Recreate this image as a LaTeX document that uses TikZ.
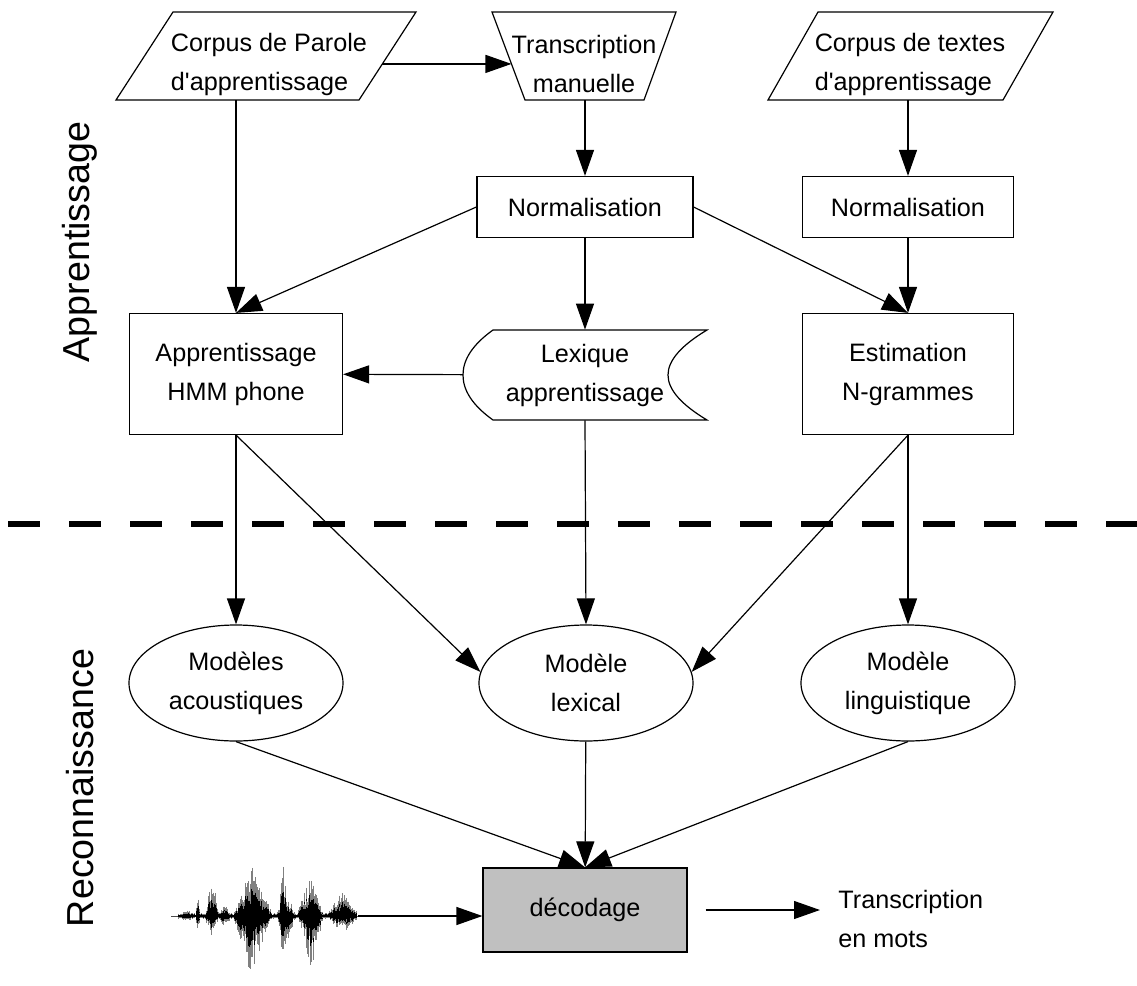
\documentclass[tikz,border=0pt]{standalone}
\usepackage{fontspec}
\setmainfont{Liberation Sans}
\usetikzlibrary{shapes.geometric,arrows.meta}
\definecolor{gris}{RGB}{192,192,192}

\begin{document}
\begin{tikzpicture}[x=0.5pt,y=-0.5pt,
    font=\fontsize{12.6}{19.5}\selectfont,
    trait/.style={line width=0.6pt},
    fleche/.style={trait, -{Triangle[length=13pt,width=9pt]}},
    boite/.style={trait, draw, rectangle, inner sep=0pt, align=center},
    bloc/.style={inner sep=0pt, minimum height=44pt},
    modele/.style={trait, draw, ellipse, minimum width=107pt, minimum height=58pt, inner sep=0pt, align=center},
    titre/.style={font=\fontsize{18.8}{22}\selectfont, rotate=90}]

    \useasboundingbox (0,0) rectangle (1137,986);

    % Corpus et transcription
    \node[bloc, minimum width=150pt, label={[align=left, xshift=1.5pt, yshift=-4pt]center:Corpus de Parole\\d\textquotesingle apprentissage}] (parole) at (266,56) {};
    \draw[trait] (173,12) -- (416,12) -- coordinate[pos=0.59] (parole-d) (359,100) -- (116,100) -- cycle;
    \node[bloc, minimum width=91.5pt, label={[align=center, yshift=-4pt]center:Transcription\\manuelle}] (manuel) at (584,56) {};
    \draw[trait] (525,100) -- coordinate[pos=0.41] (manuel-g) (492,12) -- (676,12) -- (644,100) -- cycle;
    \node[bloc, minimum width=142pt, label={[align=left, yshift=-4pt]center:Corpus de textes\\d\textquotesingle apprentissage}] (textes) at (910,56) {};
    \draw[trait] (818,12) -- (1053,12) -- (1003,100) -- (768,100) -- cycle;

    % Normalisations
    \node[boite, minimum width=108pt, minimum height=30.5pt] (norm) at (585,207) {Normalisation};
    \node[boite, minimum width=105.5pt, minimum height=30.5pt] (normtxt) at (908,207) {Normalisation};

    % Apprentissage des modeles
    \node[boite, minimum width=106.5pt, minimum height=60.5pt] (hmm) at (236,374) {Apprentissage\\HMM phone};
    \node[inner sep=0pt, minimum width=121.5pt, minimum height=45pt, align=center] (lexique) at (585,375) {Lexique\\apprentissage};
    \draw[trait] (493,330) -- (707,330) .. controls (682,345) and (668,360) .. (668,375)
        .. controls (668,390) and (682,405) .. (707,420) -- (493,420)
        .. controls (472,405) and (463,390) .. (463,375) .. controls (463,360) and (472,345) .. (493,330) -- cycle;
    \node[boite, minimum width=105.5pt, minimum height=60.5pt] (ngram) at (908,374) {Estimation\\N-grammes};

    % Separation
    \draw[line width=3pt, dash pattern=on 16pt off 14.5pt] (8,524) -- (1137,524);
    \node[titre] (appr) at (80,242) {Apprentissage};
    \node[titre] (reco) at (80,788) {Reconnaissance};

    % Modeles
    \node[modele] (acous) at (236,683) {Modèles\\acoustiques};
    \node[modele] (lexical) at (586,683) {Modèle\\lexical};
    \node[modele] (lingu) at (908,683) {Modèle\\linguistique};

    % Decodage
    \node[boite, fill=gris, minimum width=102pt, minimum height=42pt] (decod) at (585,910) {décodage};
    \node[align=left, anchor=west, inner sep=0pt] (sortie) at (838,919) {Transcription\\en mots};

    % Signal de parole
    \pgfmathsetseed{11}
    \draw[line width=0.5pt, black!70] (171,916) -- (358,916);
    \foreach \x in {178,178.7,...,357} {
        \pgfmathsetmacro\haut{3+max(0,3*(1-abs(\x-188)/7))+max(0,18*(1-abs(\x-198)/2))
            +max(0,36*(1-abs(\x-212)/7))+max(0,8*(1-abs(\x-225)/6))
            +max(0,48*(1-abs(\x-253)/19))+max(0,48*(1-abs(\x-283)/3))
            +max(0,24*(1-abs(\x-286)/9))+max(0,38*(1-abs(\x-310)/13))
            +max(0,24*(1-abs(\x-343)/15))}
        \pgfmathsetmacro\bas{3+max(0,3*(1-abs(\x-188)/7))+max(0,14*(1-abs(\x-198)/2))
            +max(0,20*(1-abs(\x-212)/7))+max(0,8*(1-abs(\x-225)/6))
            +max(0,54*(1-abs(\x-252)/19))+max(0,18*(1-abs(\x-250)/2.5))
            +max(0,32*(1-abs(\x-283)/3))+max(0,32*(1-abs(\x-286)/9))
            +max(0,50*(1-abs(\x-311)/12))+max(0,14*(1-abs(\x-343)/15))}
        \pgfmathsetmacro\up{\haut*(0.4+0.6*rnd)}
        \pgfmathsetmacro\dn{\bas*(0.4+0.6*rnd)}
        \draw[line width=0.45pt, black!50] (\x,916-\up) -- (\x,916+\dn);
        \draw[line width=0.45pt, black] (\x,916-0.6*\up) -- (\x,916+0.6*\dn);
    }
    \coordinate (signal) at (358,916);

    % Fleches
    \draw[fleche] (parole-d) -- (manuel-g);
    \draw[fleche] (parole.south -| hmm.north) -- (hmm.north);
    \draw[fleche] (manuel.south -| norm.north) -- (norm.north);
    \draw[fleche] (textes.south -| normtxt.north) -- (normtxt.north);
    \draw[fleche] (norm.west) -- (hmm.north);
    \draw[fleche] (norm.east) -- (ngram.north);
    \draw[fleche] (norm) -- (lexique);
    \draw[fleche] (normtxt) -- (ngram);
    \draw[fleche] (lexique) -- (hmm);
    \draw[fleche] (hmm) -- (acous);
    \draw[fleche] (hmm.south) -- (lexical.174);
    \draw[fleche] (lexique.south) -- (lexical.north);
    \draw[fleche] (ngram.south) -- (lexical.6);
    \draw[fleche] (ngram) -- (lingu);
    \draw[fleche] (acous.south) -- (decod.north);
    \draw[fleche] (lexical) -- (decod);
    \draw[fleche] (lingu.south) -- (decod.north);
    \draw[fleche] (signal) -- (signal -| decod.west);
    \draw[fleche, shorten <=9pt, shorten >=9pt] (decod.east) -- (decod.east -| sortie.west);

\end{tikzpicture}
\end{document}
